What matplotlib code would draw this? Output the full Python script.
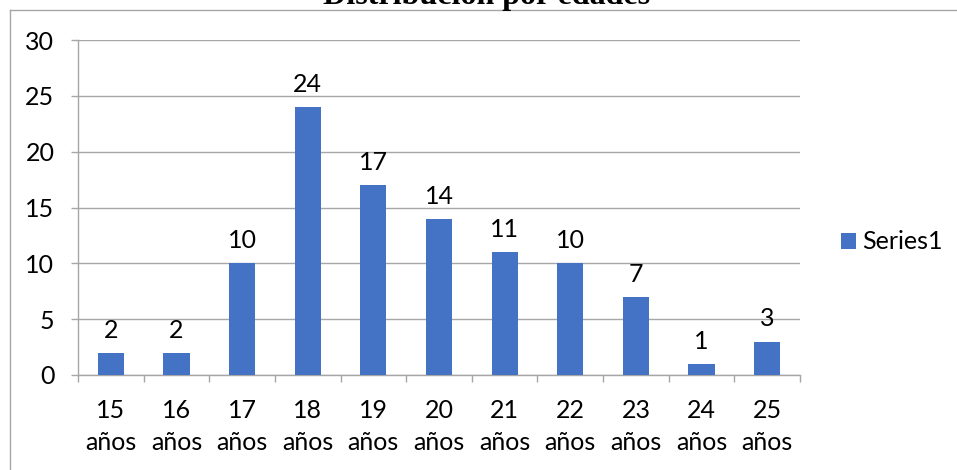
import matplotlib
matplotlib.use("Agg")
from matplotlib import pyplot as plt
from matplotlib.lines import Line2D
import numpy as np

# datos
edades = ["15\naños", "16\naños", "17\naños", "18\naños", "19\naños", "20\naños",
          "21\naños", "22\naños", "23\naños", "24\naños", "25\naños"]
valores = [2, 2, 10, 24, 17, 14, 11, 10, 7, 1, 3]
yticks = [0, 5, 10, 15, 20, 25, 30]

azul = "#4472C4"
gris = "#A6A6A6"
fs = 18
plt.rcParams["font.family"] = ["Lato", "DejaVu Sans"]

fig = plt.figure(figsize=(9.57, 4.70), dpi=100)
ax = fig.add_axes([78 / 957, 1 - 375 / 470, (800 - 78) / 957, (375 - 40) / 470])

x = np.arange(len(valores))
bars = ax.bar(x, valores, width=0.4, color=azul, zorder=3, label="Series1")

for xi, v in zip(x, valores):
    ax.annotate(str(v), (xi, v), xytext=(0, 8), textcoords="offset points",
                ha="center", va="bottom", fontsize=fs, color="black", zorder=4)

ax.set_xlim(-0.5, len(valores) - 0.5)
ax.set_ylim(0, 30)
ax.set_yticks(yticks)
ax.set_yticklabels([str(t) for t in yticks], fontsize=fs)
ax.yaxis.grid(True, color=gris, linewidth=1, zorder=0)

# ticks de categoria en los bordes
ax.set_xticks(np.arange(len(valores) + 1) - 0.5, minor=False)
ax.set_xticklabels([])
ax.set_xticks(x, minor=True)
ax.set_xticklabels(edades, minor=True, fontsize=fs, linespacing=1.5)
ax.tick_params(axis="x", which="major", length=5, color=gris, width=1)
ax.tick_params(axis="x", which="minor", length=0, pad=17)
ax.tick_params(axis="y", length=5, color=gris, width=1, pad=12)

for s in ["top", "right"]:
    ax.spines[s].set_visible(False)
for s in ["left", "bottom"]:
    ax.spines[s].set_color(gris)
    ax.spines[s].set_linewidth(1)

# leyenda
fig.legend(handles=[bars], labels=["Series1"], loc="center left",
           bbox_to_anchor=(841 / 957, 1 - 242 / 470), frameon=False,
           borderpad=0, borderaxespad=0,
           fontsize=fs, handlelength=0.6, handleheight=0.6, handletextpad=0.25)

# titulo (cortado arriba)
fig.text(487 / 957, 1 - 4 / 470, "Distribución por edades", ha="center",
         va="baseline", fontsize=23, fontweight="bold",
         family=["Liberation Serif", "DejaVu Serif"])

# marco del grafico
fig.add_artist(Line2D([9.5 / 957, 9.5 / 957], [0, 1 - 9.5 / 470],
                      transform=fig.transFigure, color=gris, linewidth=1))
fig.add_artist(Line2D([9.5 / 957, 1], [1 - 9.5 / 470, 1 - 9.5 / 470],
                      transform=fig.transFigure, color=gris, linewidth=1))

fig.savefig("out.png", dpi=100)
